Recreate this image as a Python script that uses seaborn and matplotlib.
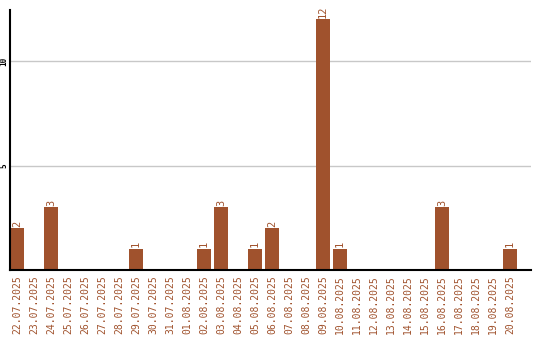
import matplotlib
matplotlib.use("Agg")
import matplotlib.pyplot as plt
import seaborn as sns
import pandas as pd

dates = ["22.07.2025", "23.07.2025", "24.07.2025", "25.07.2025", "26.07.2025",
         "27.07.2025", "28.07.2025", "29.07.2025", "30.07.2025", "31.07.2025",
         "01.08.2025", "02.08.2025", "03.08.2025", "04.08.2025", "05.08.2025",
         "06.08.2025", "07.08.2025", "08.08.2025", "09.08.2025", "10.08.2025",
         "11.08.2025", "12.08.2025", "13.08.2025", "14.08.2025", "15.08.2025",
         "16.08.2025", "17.08.2025", "18.08.2025", "19.08.2025", "20.08.2025"]
counts = [2, 0, 3, 0, 0, 0, 0, 1, 0, 0,
          0, 1, 3, 0, 1, 2, 0, 0, 12, 1,
          0, 0, 0, 0, 0, 3, 0, 0, 0, 1]
yticks = [5, 10]

color = "#A0522D"
df = pd.DataFrame({"date": dates, "count": counts})

sns.set_style("white")
fig = plt.figure(figsize=(5.4, 3.4), dpi=100)
ax = fig.add_axes([10 / 540, 70 / 340, 521 / 540, 260 / 340])

sns.barplot(data=df, x="date", y="count", order=dates, color=color,
            saturation=1, width=14 / 17, ax=ax)
for p in ax.patches:
    p.set_linewidth(0)

for i, v in enumerate(counts):
    if v > 0:
        ax.text(i, v + 0.08, str(v), rotation=90, ha="center", va="bottom",
                color=color, fontsize=7.5, family="DejaVu Sans Mono")

ax.set_xlim(-7 / 17, (521 - 7) / 17)
ax.set_ylim(0, 260 / 20.9)
ax.set_yticks(yticks)
ax.set_yticklabels([str(t) for t in yticks], rotation=90, va="center",
                   fontsize=5.5, family="DejaVu Sans Mono", color="black",
                   fontweight="bold")
ax.yaxis.grid(True, color="#c8c8c8", linewidth=1)
ax.set_axisbelow(True)
ax.tick_params(axis="y", length=0, pad=1)
ax.tick_params(axis="x", length=0, pad=4)
ax.set_xticks(range(len(dates)))
ax.set_xticklabels(dates, rotation=90, color=color, fontsize=7,
                   family="DejaVu Sans Mono")
ax.set_xlabel("")
ax.set_ylabel("")
for s in ["top", "right"]:
    ax.spines[s].set_visible(False)
ax.spines["left"].set_color("black")
ax.spines["left"].set_linewidth(1.5)
ax.spines["bottom"].set_color("black")
ax.spines["bottom"].set_linewidth(1.5)

fig.savefig("out.png", dpi=100)
